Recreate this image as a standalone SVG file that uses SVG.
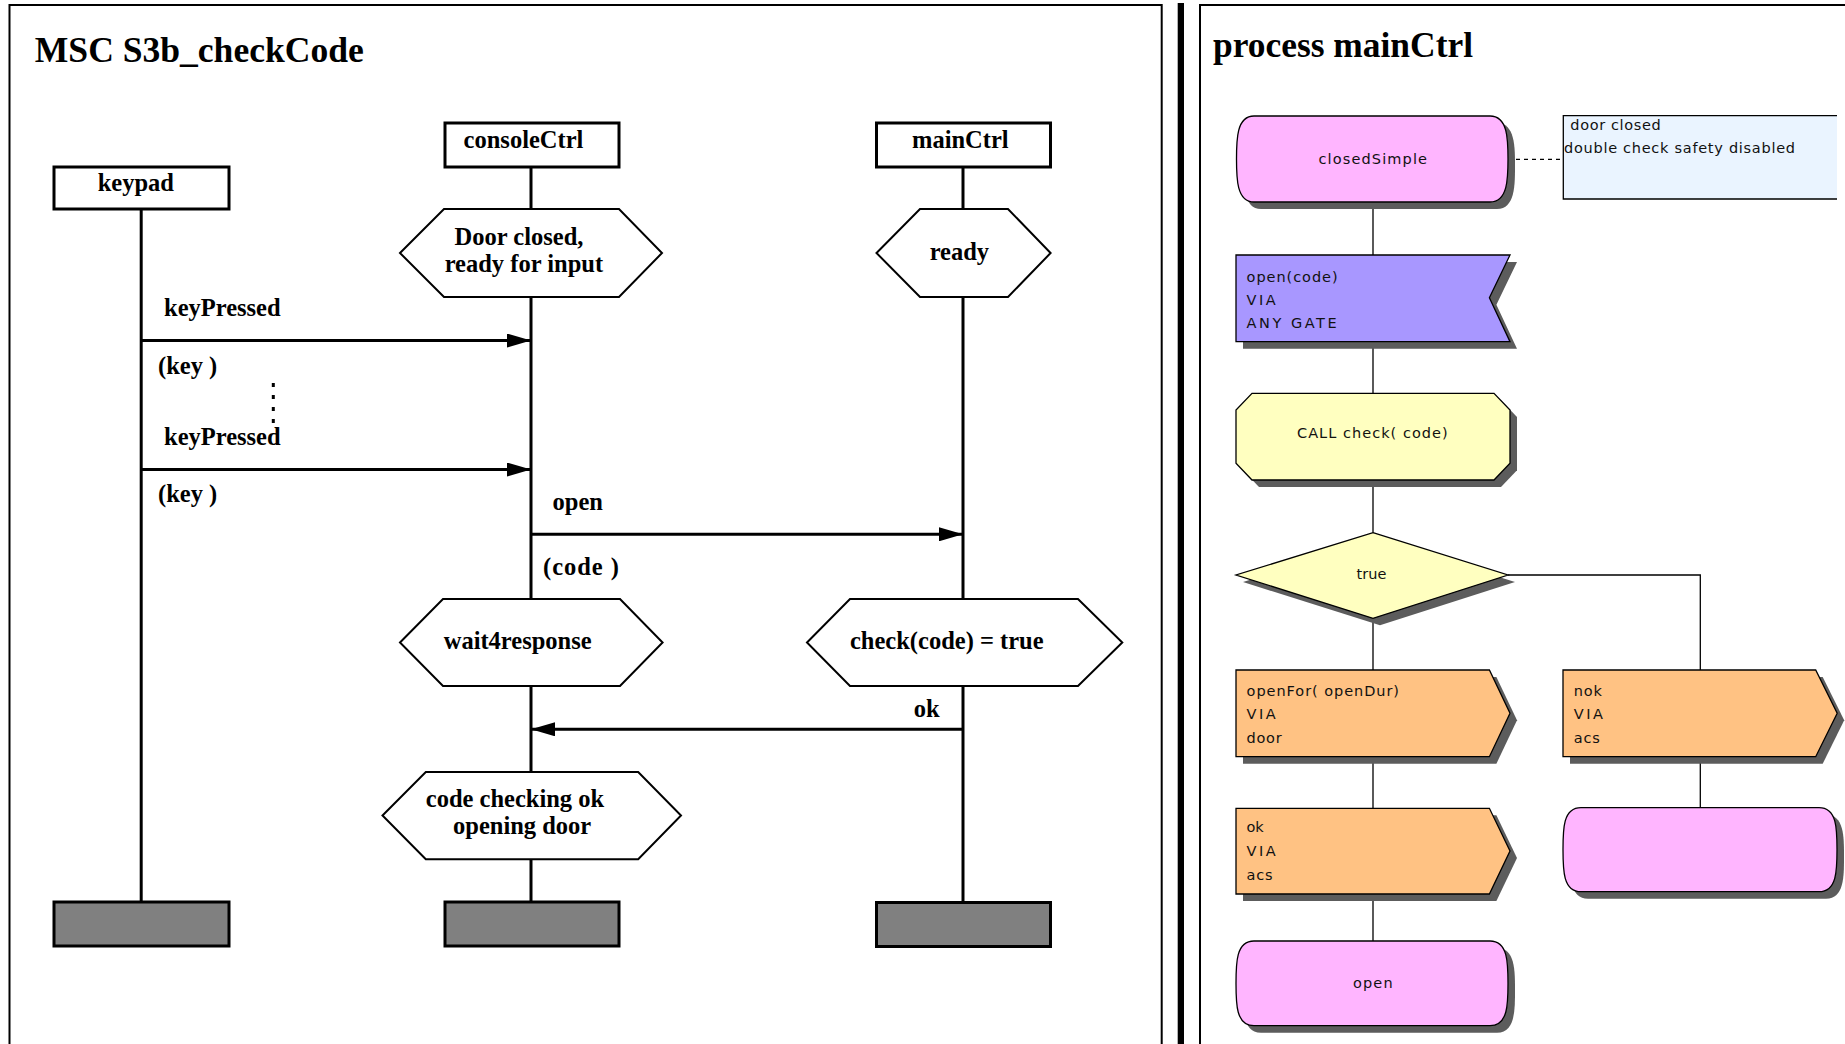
<svg xmlns="http://www.w3.org/2000/svg" width="1845" height="1044" viewBox="0 0 1845 1044">
<defs>
<style>
.t{font-family:"Liberation Serif","Times New Roman",serif;font-weight:bold;font-size:24.5px;fill:#000}
.title{font-family:"Liberation Serif","Times New Roman",serif;font-weight:bold;font-size:35.5px;fill:#000}
.s{font-family:"DejaVu Sans","Liberation Sans",sans-serif;font-size:14.5px;fill:#111}
.box{fill:#fff;stroke:#000;stroke-width:3}
.hex{fill:#fff;stroke:#000;stroke-width:2}
.end{fill:#808080;stroke:#000;stroke-width:3}
.life{stroke:#000;stroke-width:3;fill:none}
.msg{stroke:#000;stroke-width:3;fill:none;marker-end:url(#ah)}
.frame{fill:none;stroke:#000;stroke-width:2}
.sh{fill:#5c5c5c}
.edge{stroke:#000;stroke-width:1.3;fill:none}
.st{fill:#FFB5FF;stroke:#000;stroke-width:1.3}
.in{fill:#A897FF;stroke:#000;stroke-width:1.3}
.out{fill:#FFC283;stroke:#000;stroke-width:1.3}
.yel{fill:#FFFFC0;stroke:#000;stroke-width:1.3}
</style>
<marker id="ah" markerWidth="24" markerHeight="14" refX="24" refY="7" orient="auto" markerUnits="userSpaceOnUse"><path d="M0,0 L24,7 L0,14 Z" fill="#000"/></marker>
</defs>
<rect width="1845" height="1044" fill="#fff"/>

<!-- frames -->
<g id="frames">
<path class="frame" d="M9.5,1044 V5 H1161.7 V1044"/>
<rect x="1177.7" y="3" width="6.3" height="1041" fill="#000"/>
<path class="frame" d="M1200,1044 V5 H1845"/>
<text class="title" x="34.8" y="62.3" textLength="329" lengthAdjust="spacingAndGlyphs">MSC S3b_checkCode</text>
<text class="title" x="1213" y="56.7" textLength="260" lengthAdjust="spacingAndGlyphs">process mainCtrl</text>
</g>

<!-- MSC connectors -->
<g id="msc-connectors">
<line class="life" x1="141.2" y1="209" x2="141.2" y2="902"/>
<line class="life" x1="531" y1="167" x2="531" y2="209"/>
<line class="life" x1="531" y1="297" x2="531" y2="599"/>
<line class="life" x1="531" y1="686" x2="531" y2="772"/>
<line class="life" x1="531" y1="859" x2="531" y2="902"/>
<line class="life" x1="963" y1="167" x2="963" y2="209"/>
<line class="life" x1="963" y1="297" x2="963" y2="599"/>
<line class="life" x1="963" y1="686" x2="963" y2="902"/>
<line class="msg" x1="141.2" y1="340.5" x2="531" y2="340.5"/>
<line class="msg" x1="141.2" y1="469.5" x2="531" y2="469.5"/>
<line class="msg" x1="531" y1="534.3" x2="963" y2="534.3"/>
<line class="msg" x1="963" y1="729.3" x2="531" y2="729.3"/>
<line x1="273.3" y1="383" x2="273.3" y2="424" stroke="#000" stroke-width="3" stroke-dasharray="4 8"/>
<text class="t" x="164" y="315.5">keyPressed</text>
<text class="t" x="158" y="374">(key )</text>
<text class="t" x="164" y="444.8">keyPressed</text>
<text class="t" x="158" y="502">(key )</text>
<text class="t" x="552.6" y="509.6">open</text>
<text class="t" x="543" y="575" textLength="76">(code )</text>
<text class="t" x="913.8" y="717">ok</text>
</g>

<!-- MSC nodes -->
<g id="keypad">
<rect class="box" x="54" y="167" width="175" height="42"/>
<text class="t" x="97.7" y="190.5">keypad</text>
</g>
<g id="consoleCtrl">
<rect class="box" x="445" y="123" width="174" height="44"/>
<text class="t" x="463.6" y="147.7">consoleCtrl</text>
</g>
<g id="mainCtrl">
<rect class="box" x="876.5" y="123" width="174" height="44"/>
<text class="t" x="912" y="147.7">mainCtrl</text>
</g>
<g id="cond-door-closed">
<polygon class="hex" points="400,253 444,209 619,209 662,253 619,297 444,297"/>
<text class="t" x="454.6" y="244.5">Door closed,</text>
<text class="t" x="444.7" y="272">ready for input</text>
</g>
<g id="cond-ready">
<polygon class="hex" points="876.5,253 920,209 1008,209 1050.6,253 1008,297 920,297"/>
<text class="t" x="929.7" y="259.5">ready</text>
</g>
<g id="cond-wait4response">
<polygon class="hex" points="400,642.5 443,599 620,599 662.6,642.5 620,686 443,686"/>
<text class="t" x="443.7" y="648.5">wait4response</text>
</g>
<g id="cond-check">
<polygon class="hex" points="807,642.5 850,599 1078,599 1122.3,642.5 1078,686 850,686"/>
<text class="t" x="850" y="648.5">check(code) = true</text>
</g>
<g id="cond-code-ok">
<polygon class="hex" points="382.5,815.5 425.8,772 638.2,772 681,815.5 638.2,859.3 425.8,859.3"/>
<text class="t" x="425.8" y="807">code checking ok</text>
<text class="t" x="453" y="834.3">opening door</text>
</g>
<g id="end-keypad"><rect class="end" x="54" y="902" width="175" height="44"/></g>
<g id="end-consoleCtrl"><rect class="end" x="445" y="902" width="174" height="44"/></g>
<g id="end-mainCtrl"><rect class="end" x="876.5" y="902.5" width="174" height="44"/></g>

<!-- SDL connectors -->
<g id="sdl-connectors">
<line class="edge" x1="1373" y1="202" x2="1373" y2="255"/>
<line class="edge" x1="1373" y1="341.7" x2="1373" y2="393.3"/>
<line class="edge" x1="1373" y1="480" x2="1373" y2="532.7"/>
<line class="edge" x1="1373" y1="618.3" x2="1373" y2="670"/>
<line class="edge" x1="1373" y1="756.7" x2="1373" y2="808.3"/>
<line class="edge" x1="1373" y1="894" x2="1373" y2="941"/>
<polyline class="edge" points="1508,575 1700.3,575 1700.3,670"/>
<line class="edge" x1="1700.3" y1="756.7" x2="1700.3" y2="807.7"/>
<line class="edge" x1="1508" y1="159.3" x2="1563.3" y2="159.3" stroke-dasharray="4 4"/>
</g>

<!-- SDL nodes -->
<g id="closedSimple">
<path class="sh" transform="translate(7,7)" d="M1254,116 H1490 C1508,116 1508,140 1508,159 C1508,178 1508,202 1490,202 H1254 C1236.5,202 1236.5,178 1236.5,159 C1236.5,140 1236.5,116 1254,116 Z"/>
<path class="st" d="M1254,116 H1490 C1508,116 1508,140 1508,159 C1508,178 1508,202 1490,202 H1254 C1236.5,202 1236.5,178 1236.5,159 C1236.5,140 1236.5,116 1254,116 Z"/>
<text class="s" x="1318.5" y="164" textLength="108.5">closedSimple</text>
</g>
<g id="comment">
<rect x="1563.3" y="115.7" width="273.7" height="83.3" fill="#EAF4FF"/>
<path d="M1837,115.7 H1563.3 V199 H1837" fill="none" stroke="#000" stroke-width="1.3"/>
<text class="s" x="1570.3" y="130" textLength="90.4">door closed</text>
<text class="s" x="1564" y="152.7" textLength="231">double check safety disabled</text>
</g>
<g id="input-open">
<polygon class="sh" transform="translate(7,7)" points="1236,255 1510,255 1489.4,297.7 1510,341.7 1236,341.7"/>
<polygon class="in" points="1236,255 1510,255 1489.4,297.7 1510,341.7 1236,341.7"/>
<text class="s" x="1246.6" y="281.7" textLength="91">open(code)</text>
<text class="s" x="1246.6" y="304.5" textLength="29">VIA</text>
<text class="s" x="1246.6" y="327.5" textLength="90">ANY GATE</text>
</g>
<g id="call-check">
<polygon class="sh" transform="translate(7,7)" points="1252,393.3 1494,393.3 1510,410 1510,463.3 1494,480 1252,480 1236,463.3 1236,410"/>
<polygon class="yel" points="1252,393.3 1494,393.3 1510,410 1510,463.3 1494,480 1252,480 1236,463.3 1236,410"/>
<text class="s" x="1297" y="438.3" textLength="150.7">CALL check( code)</text>
</g>
<g id="decision">
<polygon class="sh" transform="translate(7,7)" points="1373,532.7 1508,575 1373,618.3 1236,575"/>
<polygon class="yel" points="1373,532.7 1508,575 1373,618.3 1236,575"/>
<text class="s" x="1356.4" y="579" textLength="30">true</text>
</g>
<g id="output-openFor">
<polygon class="sh" transform="translate(7,7)" points="1236,670 1489.4,670 1510,713.3 1489.4,756.7 1236,756.7"/>
<polygon class="out" points="1236,670 1489.4,670 1510,713.3 1489.4,756.7 1236,756.7"/>
<text class="s" x="1246.6" y="695.5" textLength="152.4">openFor( openDur)</text>
<text class="s" x="1246.6" y="719" textLength="29">VIA</text>
<text class="s" x="1246.6" y="742.5" textLength="35">door</text>
</g>
<g id="output-nok">
<polygon class="sh" transform="translate(7,7)" points="1563,670 1815.7,670 1837.2,713.3 1815.7,756.7 1563,756.7"/>
<polygon class="out" points="1563,670 1815.7,670 1837.2,713.3 1815.7,756.7 1563,756.7"/>
<text class="s" x="1573.8" y="695.5" textLength="28">nok</text>
<text class="s" x="1573.8" y="719" textLength="29">VIA</text>
<text class="s" x="1573.8" y="742.5" textLength="26">acs</text>
</g>
<g id="output-ok">
<polygon class="sh" transform="translate(7,7)" points="1236,808.3 1489.4,808.3 1510,851 1489.4,894 1236,894"/>
<polygon class="out" points="1236,808.3 1489.4,808.3 1510,851 1489.4,894 1236,894"/>
<text class="s" x="1246.6" y="832" textLength="17">ok</text>
<text class="s" x="1246.6" y="856" textLength="29">VIA</text>
<text class="s" x="1246.6" y="880" textLength="26">acs</text>
</g>
<g id="state-open">
<path class="sh" transform="translate(7,7)" d="M1254,941 H1490 C1508,941 1508,963 1508,983.4 C1508,1004 1508,1025.7 1490,1025.7 H1254 C1236,1025.7 1236,1004 1236,983.4 C1236,963 1236,941 1254,941 Z"/>
<path class="st" d="M1254,941 H1490 C1508,941 1508,963 1508,983.4 C1508,1004 1508,1025.7 1490,1025.7 H1254 C1236,1025.7 1236,1004 1236,983.4 C1236,963 1236,941 1254,941 Z"/>
<text class="s" x="1353" y="988.3" textLength="39.6">open</text>
</g>
<g id="state-empty">
<path class="sh" transform="translate(7,7)" d="M1581,807.7 H1819 C1837,807.7 1837,829 1837,849.7 C1837,870 1837,891.7 1819,891.7 H1581 C1563,891.7 1563,870 1563,849.7 C1563,829 1563,807.7 1581,807.7 Z"/>
<path class="st" d="M1581,807.7 H1819 C1837,807.7 1837,829 1837,849.7 C1837,870 1837,891.7 1819,891.7 H1581 C1563,891.7 1563,870 1563,849.7 C1563,829 1563,807.7 1581,807.7 Z"/>
</g>
</svg>
